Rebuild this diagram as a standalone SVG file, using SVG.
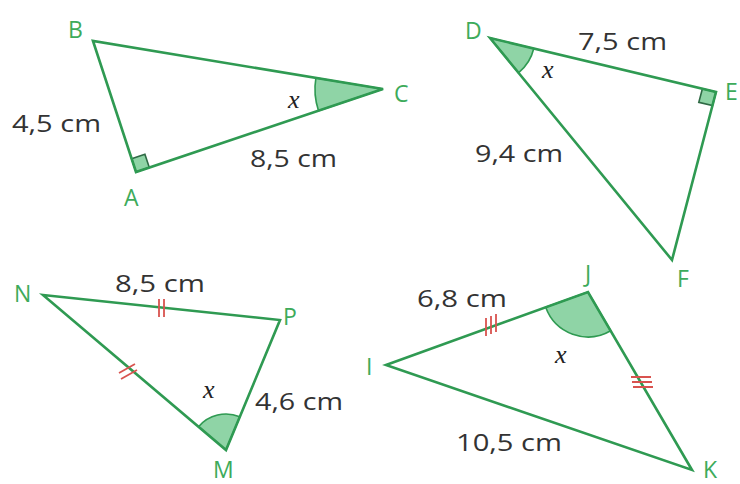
<svg xmlns="http://www.w3.org/2000/svg" width="740" height="484" viewBox="0 0 740 484">
<style>
.side{fill:none;stroke:#2f9a52;stroke-width:2.6;stroke-linejoin:miter}
.ang{fill:#8fd4a6;stroke:#2f9a52;stroke-width:1.6}
.rt{fill:#8fd4a6;stroke:#2f6a45;stroke-width:1.6}
.tick{stroke:#d9534f;stroke-width:1.8;fill:none}
.lbl{font-family:"Open Sans","Liberation Sans",sans-serif;font-size:23px;fill:#3dab5b}
.len{font-family:"Open Sans","Liberation Sans",sans-serif;font-size:24px;fill:#333}
.var{font-family:"Liberation Serif","DejaVu Serif",serif;font-style:italic;font-size:26px;fill:#222}
</style>
<rect width="740" height="484" fill="#fff"/>
<g id="ABC">
<path class="ang" d="M383,89 L315.9,77.9 A68,68 0 0,0 318.5,110.7 Z"/>
<path class="rt" d="M136,172 L131.6,158.7 L144.9,154.2 L149.3,167.5 Z"/>
<polygon class="side" points="93,41 136,172 383,89"/>
<text class="lbl" x="68" y="38">B</text>
<text class="lbl" x="124" y="206">A</text>
<text class="lbl" x="394" y="102">C</text>
<text class="len" x="12" y="132" textLength="89" lengthAdjust="spacingAndGlyphs">4,5 cm</text>
<text class="len" x="250" y="167" textLength="87" lengthAdjust="spacingAndGlyphs">8,5 cm</text>
<text class="var" x="288" y="108">x</text>
</g>
<g id="DEF">
<path class="ang" d="M490,38 L533.8,48.5 A45,45 0 0,1 518.5,72.8 Z"/>
<path class="rt" d="M716,92 L702.4,88.7 L698.8,102.3 L712.5,105.5 Z"/>
<polygon class="side" points="490,38 716,92 672,260"/>
<text class="lbl" x="465" y="39">D</text>
<text class="lbl" x="725" y="100">E</text>
<text class="lbl" x="677" y="287">F</text>
<text class="len" x="578" y="50" textLength="89" lengthAdjust="spacingAndGlyphs">7,5 cm</text>
<text class="len" x="475" y="162" textLength="88" lengthAdjust="spacingAndGlyphs">9,4 cm</text>
<text class="var" x="542" y="78">x</text>
</g>
<g id="NMP">
<path class="ang" d="M226,450 L198.5,426.7 A36,36 0 0,1 239.8,416.8 Z"/>
<polygon class="side" points="43,295 280,320 226,450"/>
<path class="tick" d="M159,299 V317 M164,299 V317"/>
<path class="tick" d="M119,373 L135,364 M121,379 L137,370"/>
<text class="lbl" x="14" y="302">N</text>
<text class="lbl" x="283" y="325">P</text>
<text class="lbl" x="213" y="478">M</text>
<text class="len" x="115" y="292" textLength="90" lengthAdjust="spacingAndGlyphs">8,5 cm</text>
<text class="len" x="255" y="410" textLength="88" lengthAdjust="spacingAndGlyphs">4,6 cm</text>
<text class="var" x="203" y="398">x</text>
</g>
<g id="IJK">
<path class="ang" d="M588,292 L545.7,307.3 A45,45 0 0,0 610.7,330.8 Z"/>
<polygon class="side" points="386,365 588,292 692,470"/>
<path class="tick" d="M486,318 V336 M491,316 V334 M496,314 V332"/>
<path class="tick" d="M631,377 H651 M632,382 H652 M633,387 H653"/>
<text class="lbl" x="366" y="375">I</text>
<text class="lbl" x="585" y="282">J</text>
<text class="lbl" x="703" y="478">K</text>
<text class="len" x="417" y="307" textLength="90" lengthAdjust="spacingAndGlyphs">6,8 cm</text>
<text class="len" x="456" y="451" textLength="106" lengthAdjust="spacingAndGlyphs">10,5 cm</text>
<text class="var" x="555" y="363">x</text>
</g>
</svg>
